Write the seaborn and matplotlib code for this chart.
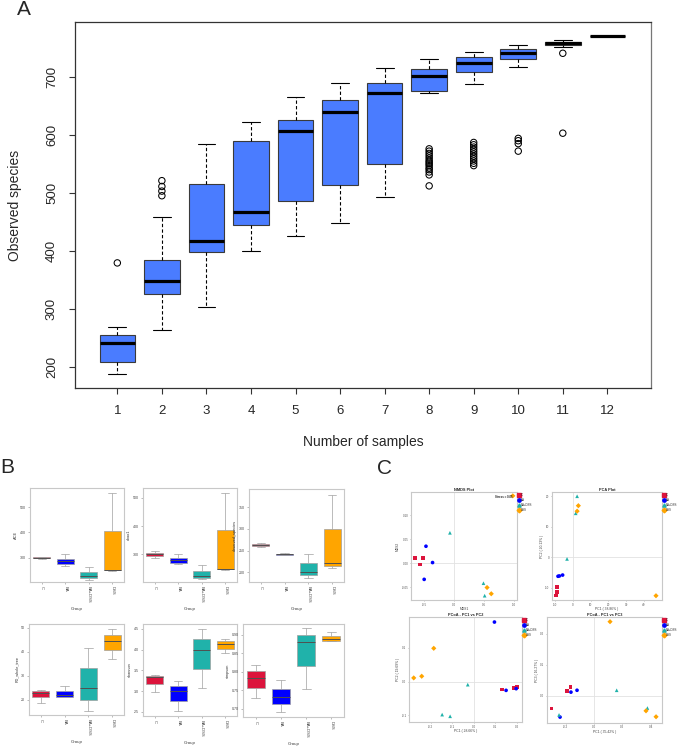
import numpy as np
import pandas as pd
import matplotlib
matplotlib.use("Agg")
import matplotlib.pyplot as plt
from matplotlib.lines import Line2D
import seaborn as sns

sns.set_theme(style="ticks")
plt.rcParams['font.family'] = ['Liberation Sans', 'DejaVu Sans']

# ---------------- Panel A : rarefaction boxplot ----------------
n_samples = ["1", "2", "3", "4", "5", "6", "7", "8", "9", "10", "11", "12"]
a_whislo = [187, 263, 303, 400, 426, 448, 493, 672, 688, 717, 751, 771]
a_q1     = [208, 326, 397, 445, 486, 514, 550, 675, 709, 731, 755, 771]
a_median = [241, 347, 416, 467, 607, 640, 673, 701, 724, 741, 758, 771]
a_q3     = [255, 384, 515, 590, 626, 660, 690, 713, 734, 748, 761, 771]
a_whishi = [268, 458, 585, 622, 666, 690, 715, 731, 743, 756, 764, 771]
a_outliers = {
    "1": [379],
    "2": [521, 511, 503, 495],
    "8": [576, 572, 568, 564, 560, 556, 553, 550, 547, 543, 540, 536, 531, 512],
    "9": [587, 583, 579, 575, 571, 567, 563, 559, 555, 551, 547],
    "10": [594, 590, 585, 572],
    "11": [741, 603],
}

# ---------------- Panel B : alpha diversity by group ----------------
groups = ["C", "BA", "BA+DSS", "DSS"]
group_colors = ["#DC143C", "#0000FF", "#20B2AA", "#FFA500"]
group_markers = {"C": "s", "BA": "o", "BA+DSS": "^", "DSS": "D"}

ace = {"C": [296, 298, 300, 302, 303], "BA": [268, 276, 286, 295, 316],
       "BA+DSS": [212, 220, 230, 244, 266], "DSS": [250, 252, 254, 405, 557]}
chao1 = {"C": [288, 294, 300, 306, 311], "BA": [266, 271, 280, 287, 300],
         "BA+DSS": [212, 217, 225, 241, 262], "DSS": [246, 248, 250, 385, 517]}
observed = {"C": [258, 260, 263, 266, 268], "BA": [240, 241, 242, 243, 244],
            "BA+DSS": [187, 193, 200, 221, 242], "DSS": [210, 215, 221, 301, 379]}
pd_tree = {"C": [18.6, 21.1, 22.6, 23.8, 24.2], "BA": [21.0, 21.1, 22.1, 23.8, 25.5],
           "BA+DSS": [15.3, 20.0, 25.0, 33.2, 41.3], "DSS": [36.8, 40.7, 44.4, 47.0, 49.3]}
shannon = {"C": [2.97, 3.17, 3.35, 3.37, 3.40], "BA": [2.52, 2.76, 3.00, 3.13, 3.25],
           "BA+DSS": [3.08, 3.54, 4.00, 4.25, 4.50], "DSS": [3.93, 4.02, 4.14, 4.21, 4.27]}
simpson = {"C": [0.728, 0.755, 0.784, 0.803, 0.819], "BA": [0.690, 0.712, 0.732, 0.754, 0.777],
           "BA+DSS": [0.754, 0.816, 0.881, 0.898, 0.917], "DSS": [0.882, 0.884, 0.888, 0.897, 0.908]}

# ---------------- Panel C : ordinations ----------------
sample_groups = ["C", "C", "C", "BA", "BA", "BA", "BA+DSS", "BA+DSS", "BA+DSS", "DSS", "DSS", "DSS"]
nmds1 = [-0.65, -0.52, -0.57, -0.47, -0.36, -0.50, -0.07, 0.49, 0.51, 0.55, 0.62, 0.98]
nmds2 = [0.011, 0.011, -0.003, 0.035, 0.001, -0.034, 0.063, -0.042, -0.068, -0.051, -0.064, 0.140]
pca1 = [-8.9, -9.0, -9.6, -8.5, -7.7, -5.9, -3.4, 2.3, 1.5, 3.0, 2.3, 46.9]
pca2 = [-9.8, -11.5, -12.6, -6.3, -6.2, -5.9, -0.6, 20.0, 14.4, 16.9, 15.1, -12.7]
pcoa_a1 = [0.133, 0.187, 0.202, 0.097, 0.151, 0.198, -0.027, -0.146, -0.109, -0.185, -0.278, -0.241]
pcoa_a2 = [-0.023, -0.019, -0.016, 0.177, -0.026, -0.021, -0.009, -0.098, -0.103, 0.099, 0.011, 0.016]
pcoa_b1 = [-0.300, -0.193, -0.167, -0.240, -0.163, -0.120, -0.247, 0.160, 0.377, 0.113, 0.367, 0.438]
pcoa_b3 = [-0.041, 0.015, 0.028, -0.068, 0.012, 0.018, -0.061, 0.018, -0.039, 0.238, -0.048, -0.067]

W, H = 678, 746
fig = plt.figure(figsize=(W / 100, H / 100), dpi=100)


def px(l, t, r, b):
    return [l / W, 1 - b / H, (r - l) / W, (b - t) / H]


# ================= Panel A =================
axA = fig.add_axes(px(75, 22, 651, 388))
rowsA = []
for i, n in enumerate(n_samples):
    for v in (a_whislo[i], a_q1[i], a_median[i], a_q3[i], a_whishi[i]):
        rowsA.append((n, v))
dfA = pd.DataFrame(rowsA, columns=["n", "species"])
sns.boxplot(data=dfA, x="n", y="species", order=n_samples, color="#4A7CFF",
            saturation=1, width=0.8, whis=(0, 100), linecolor="#3a3a3a",
            linewidth=0.8, showfliers=False,
            medianprops=dict(color="black", linewidth=2.3),
            whiskerprops=dict(color="black", linestyle=(0, (3, 2)), linewidth=0.8),
            capprops=dict(color="black", linewidth=0.8), ax=axA)
rowsO = [(n, v) for n, vals in a_outliers.items() for v in vals]
dfO = pd.DataFrame(rowsO, columns=["n", "species"])
n0 = len(axA.collections)
sns.stripplot(data=dfO, x="n", y="species", order=n_samples, jitter=False,
              color="black", size=4.6, linewidth=0.75, edgecolor="black", ax=axA)
for c in axA.collections[n0:]:
    c.set_facecolor("none")
    c.set_edgecolor("black")
axA.set_xlim(-0.95, 11.98)
axA.set_ylim(163, 795)
axA.set_yticks([200, 300, 400, 500, 600, 700])
axA.set_xlabel("Number of samples", fontsize=10, labelpad=13)
axA.set_ylabel("Observed species", fontsize=10, labelpad=17)
axA.tick_params(axis="both", direction="out", length=4.3, width=0.8,
                color="#333333", labelsize=9.5)
axA.tick_params(axis="x", pad=8)
axA.tick_params(axis="y", pad=8, labelrotation=90)
for lab in axA.get_yticklabels():
    lab.set_va("center")
for s in axA.spines.values():
    s.set_visible(True)
    s.set_color("#333333")
    s.set_linewidth(0.9)
axA.spines["right"].set_color("#777777")

# ================= Panel B =================
b_specs = [
    (ace, "ACE", (205, 575), [300, 400, 500], px(30, 488, 124, 582)),
    (chao1, "chao1", (203, 534), [300, 400, 500], px(143, 488, 237, 582)),
    (observed, "observed_species", (178, 392), [200, 250, 300, 350], px(249, 489, 344, 582)),
    (pd_tree, "PD_whole_tree", (13.6, 51.5), [20, 30, 40, 50], px(29, 624, 124, 715)),
    (shannon, "shannon", (2.4, 4.62), [2.5, 3.0, 3.5, 4.0, 4.5], px(143, 624, 237, 716)),
    (simpson, "simpson", (0.677, 0.929), [0.70, 0.75, 0.80, 0.85, 0.90], px(243, 624, 344, 717)),
]
for values, ylabel, ylim, yticks, rect in b_specs:
    ax = fig.add_axes(rect)
    df = pd.DataFrame([(g, v) for g in groups for v in values[g]], columns=["Group", "value"])
    sns.boxplot(data=df, x="Group", y="value", hue="Group", order=groups,
                hue_order=groups, palette=group_colors, legend=False, dodge=False,
                saturation=1, width=0.72, whis=(0, 100), linecolor="#a0a0a0",
                linewidth=0.5, medianprops=dict(color="#505050", linewidth=0.7), ax=ax)
    ax.set_ylim(*ylim)
    ax.set_yticks(yticks)
    ax.set_ylabel(ylabel, fontsize=2.8, labelpad=1.5, color="#333333")
    ax.set_xlabel("Group", fontsize=3.2, labelpad=3, color="#333333")
    ax.tick_params(axis="both", length=1.5, width=0.4, color="#888888",
                   labelsize=2.6, pad=1.5, labelcolor="#444444")
    ax.tick_params(axis="x", labelrotation=270, labelsize=3.0)
    for s in ax.spines.values():
        s.set_visible(True)
        s.set_color("#c8c8c8")
        s.set_linewidth(0.8)

# ================= Panel C =================
c_specs = [
    (nmds1, nmds2, "NMDS Plot", "MDS1", "MDS2", (-0.72, 1.05), (-0.077, 0.148),
     [-0.5, 0.0, 0.5, 1.0], [-0.05, 0.0, 0.05, 0.10], "{:.1f}", "{:.2f}", px(411, 492, 517, 600), True),
    (pca1, pca2, "PCA Plot", "PC1 ( 38.86% )", "PC2 ( 20.13% )", (-11.9, 50.3), (-14.1, 21.4),
     [-10, 0, 10, 20, 30, 40], [-10, 0, 10, 20], "{:.0f}", "{:.0f}", px(552, 492, 662, 600), False),
    (pcoa_a1, pcoa_a2, "PCoA - PC1 vs PC2", "PC1 ( 28.66% )", "PC2 ( 19.69% )", (-0.30, 0.225), (-0.12, 0.192),
     [-0.2, -0.1, 0.0, 0.1, 0.2], [-0.1, 0.0, 0.1], "{:.1f}", "{:.1f}", px(409, 617, 522, 722), False),
    (pcoa_b1, pcoa_b3, "PCoA - PC1 vs PC3", "PC1 ( 35.42% )", "PC3 ( 16.27% )", (-0.332, 0.48), (-0.087, 0.253),
     [-0.2, 0.0, 0.2, 0.4], [0.0, 0.1, 0.2], "{:.1f}", "{:.1f}", px(547, 617, 662, 723), False),
]
for (xv, yv, title, xlabel, ylabel, xlim, ylim, xt, yt, xf, yf, rect, stress) in c_specs:
    ax = fig.add_axes(rect)
    df = pd.DataFrame({"x": xv, "y": yv, "group": sample_groups})
    ax.axhline(0, color="#e2e2e2", lw=0.6, zorder=0)
    ax.axvline(0, color="#e2e2e2", lw=0.6, zorder=0)
    sns.scatterplot(data=df, x="x", y="y", hue="group", style="group",
                    hue_order=groups, style_order=groups, palette=group_colors,
                    markers=group_markers, s=7, linewidth=0, legend=False, ax=ax)
    ax.set_xlim(*xlim)
    ax.set_ylim(*ylim)
    ax.set_xticks(xt)
    ax.set_xticklabels([xf.format(v) for v in xt])
    ax.set_yticks(yt)
    ax.set_yticklabels([yf.format(v) for v in yt])
    ax.set_title(title, fontsize=2.8, fontweight="bold", pad=0.8)
    ax.set_xlabel(xlabel, fontsize=2.4, labelpad=0.6, color="#444444")
    ax.set_ylabel(ylabel, fontsize=2.4, labelpad=1.0, color="#444444")
    ax.tick_params(axis="both", length=1.0, width=0.4, color="#888888",
                   labelsize=2.2, pad=0.8, labelcolor="#555555")
    for s in ax.spines.values():
        s.set_visible(True)
        s.set_color("#c8c8c8")
        s.set_linewidth(0.8)
    handles = [Line2D([0], [0], marker=group_markers[g], color=c, linestyle="",
                      markersize=2.4) for g, c in zip(groups, group_colors)]
    ax.legend(handles, groups, loc="upper left", bbox_to_anchor=(1.0, 1.0),
              frameon=False, fontsize=2.1, handlelength=0.7, handletextpad=0.25,
              labelspacing=0.35, borderaxespad=0.15, borderpad=0.2)
    if stress:
        ax.text(0.96, 0.97, "Stress = 0.05", transform=ax.transAxes, ha="right",
                va="top", fontsize=2.1, fontweight="bold")

# ================= Panel letters =================
fig.text(24 / W, 1 - 9.5 / H, "A", fontsize=15, ha="center", va="center")
fig.text(7 / W, 1 - 467.5 / H, "B", fontsize=15, ha="center", va="center")
fig.text(385 / W, 1 - 468 / H, "C", fontsize=15, ha="center", va="center")

fig.savefig("out.png", dpi=100)
